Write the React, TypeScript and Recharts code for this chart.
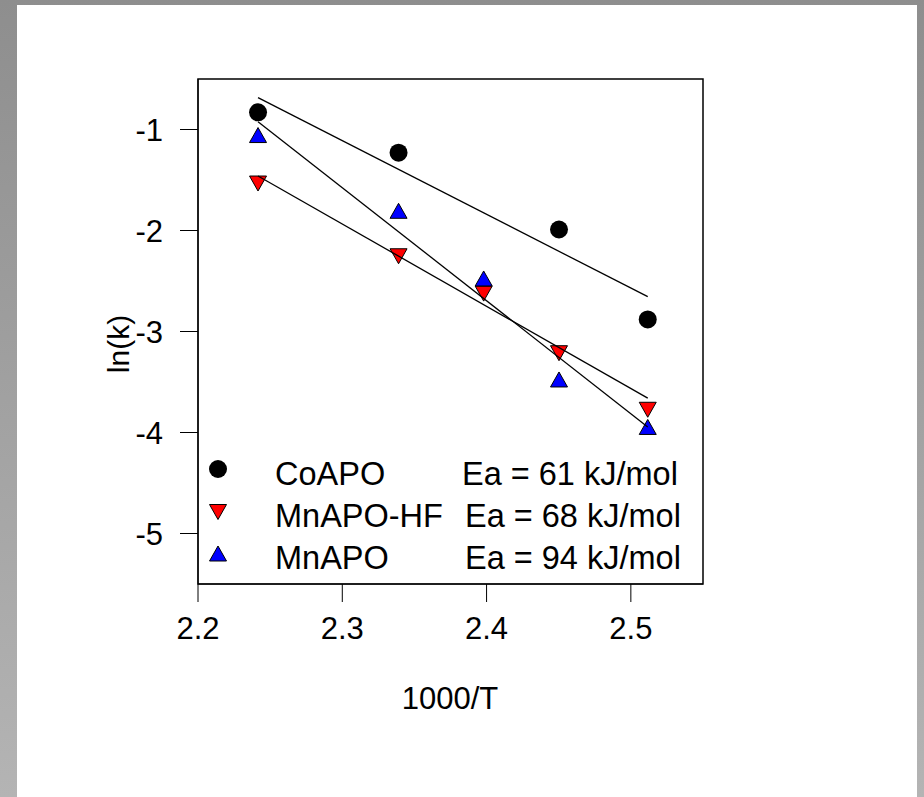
import React from 'react';
import {
  ScatterChart,
  Scatter,
  XAxis,
  YAxis,
  ReferenceArea,
} from 'recharts';

// 1000/T values
const xFive = [2.2416, 2.339, 2.398, 2.4502, 2.5117];
const xCo = [2.2416, 2.339, 2.4502, 2.5117];

// ln(k) values
const coApo = [-0.83, -1.23, -1.99, -2.88];
const mnApoHf = [-1.53, -2.25, -2.62, -3.21, -3.77];
const mnApo = [-1.06, -1.81, -2.48, -3.48, -3.95];

// linear fit end points
const fitX = [2.2416, 2.5117];
const fitCo = [-0.685, -2.655];
const fitHf = [-1.46, -3.66];
const fitMn = [-0.923, -3.945];

const xTicks = [2.2, 2.3, 2.4, 2.5];
const yTicks = [-1, -2, -3, -4, -5];

const legendRows = [
  { name: 'CoAPO', ea: 'Ea = 61 kJ/mol', marker: 'circle' },
  { name: 'MnAPO-HF', ea: 'Ea = 68 kJ/mol', marker: 'down' },
  { name: 'MnAPO', ea: 'Ea = 94 kJ/mol', marker: 'up' },
];

const FONT = '"Liberation Sans", Arial, sans-serif';

const pairs = (xs: number[], ys: number[]) => ys.map((y, i) => ({ x: xs[i], y }));

const Marker = ({ kind, cx, cy }: { kind: string; cx: number; cy: number }) => {
  if (kind === 'circle') return <circle cx={cx} cy={cy} r={9} fill="#000" />;
  if (kind === 'down')
    return (
      <polygon
        points={`${cx - 8.5},${cy - 7} ${cx + 8.5},${cy - 7} ${cx},${cy + 8}`}
        fill="#ff0000"
        stroke="#000"
        strokeWidth={1}
      />
    );
  return (
    <polygon
      points={`${cx - 8.5},${cy + 7} ${cx + 8.5},${cy + 7} ${cx},${cy - 8}`}
      fill="#0000ff"
      stroke="#000"
      strokeWidth={1}
    />
  );
};

const shapeOf = (kind: string) => (p: any) => <Marker kind={kind} cx={p.cx} cy={p.cy} />;
const noShape = () => <g />;

export default function App() {
  return (
    <div
      style={{
        position: 'absolute',
        left: 0,
        top: 0,
        width: 924,
        height: 797,
        background: 'linear-gradient(to bottom, #8e8e8e, #b4b4b4)',
      }}
    >
      <div
        style={{
          position: 'absolute',
          left: 17,
          top: 5,
          width: 900,
          height: 792,
          background: '#fff',
        }}
      />
      <div style={{ position: 'absolute', left: 0, top: 0 }}>
        <ScatterChart
          width={924}
          height={797}
          margin={{ top: 79, right: 221, bottom: 153, left: 138 }}
        >
          <XAxis
            type="number"
            dataKey="x"
            domain={[2.2, 2.55]}
            ticks={xTicks}
            tickFormatter={(v: number) => v.toFixed(1)}
            height={60}
            tickSize={18}
            tickMargin={15}
            stroke="#000"
            tick={{ fontSize: 31, fill: '#000', fontFamily: FONT }}
            allowDataOverflow
          />
          <YAxis
            type="number"
            dataKey="y"
            domain={[-5.5, -0.5]}
            ticks={yTicks}
            width={60}
            tickSize={18}
            tickMargin={17}
            stroke="#000"
            tick={{ fontSize: 31, fill: '#000', fontFamily: FONT }}
            allowDataOverflow
          />
          <ReferenceArea
            x1={2.2}
            x2={2.55}
            y1={-5.5}
            y2={-0.5}
            fill="none"
            fillOpacity={0}
            stroke="#000"
            strokeWidth={1.5}
          />
          <Scatter data={pairs(xCo, coApo)} shape={shapeOf('circle')} isAnimationActive={false} />
          <Scatter data={pairs(xFive, mnApoHf)} shape={shapeOf('down')} isAnimationActive={false} />
          <Scatter data={pairs(xFive, mnApo)} shape={shapeOf('up')} isAnimationActive={false} />
          <Scatter
            data={pairs(fitX, fitCo)}
            line={{ stroke: '#000', strokeWidth: 1.3 }}
            shape={noShape}
            isAnimationActive={false}
          />
          <Scatter
            data={pairs(fitX, fitHf)}
            line={{ stroke: '#000', strokeWidth: 1.3 }}
            shape={noShape}
            isAnimationActive={false}
          />
          <Scatter
            data={pairs(fitX, fitMn)}
            line={{ stroke: '#000', strokeWidth: 1.3 }}
            shape={noShape}
            isAnimationActive={false}
          />
        </ScatterChart>
      </div>
      <svg
        width={924}
        height={797}
        style={{ position: 'absolute', left: 0, top: 0, pointerEvents: 'none' }}
        fontFamily={FONT}
      >
        <text x={129} y={344} fontSize={30} textAnchor="middle" transform="rotate(-90 129 344)">
          ln(k)
        </text>
        <text x={450} y={709} fontSize={31} textAnchor="middle">
          1000/T
        </text>
        {legendRows.map((row, i) => (
          <g key={row.name}>
            <Marker kind={row.marker} cx={218} cy={469 + i * 42.5} />
            <text x={275} y={485 + i * 42} fontSize={32.5}>
              {row.name}
            </text>
            <text x={i === 0 ? 462 : 465} y={485 + i * 42} fontSize={32.5}>
              {row.ea}
            </text>
          </g>
        ))}
      </svg>
    </div>
  );
}
